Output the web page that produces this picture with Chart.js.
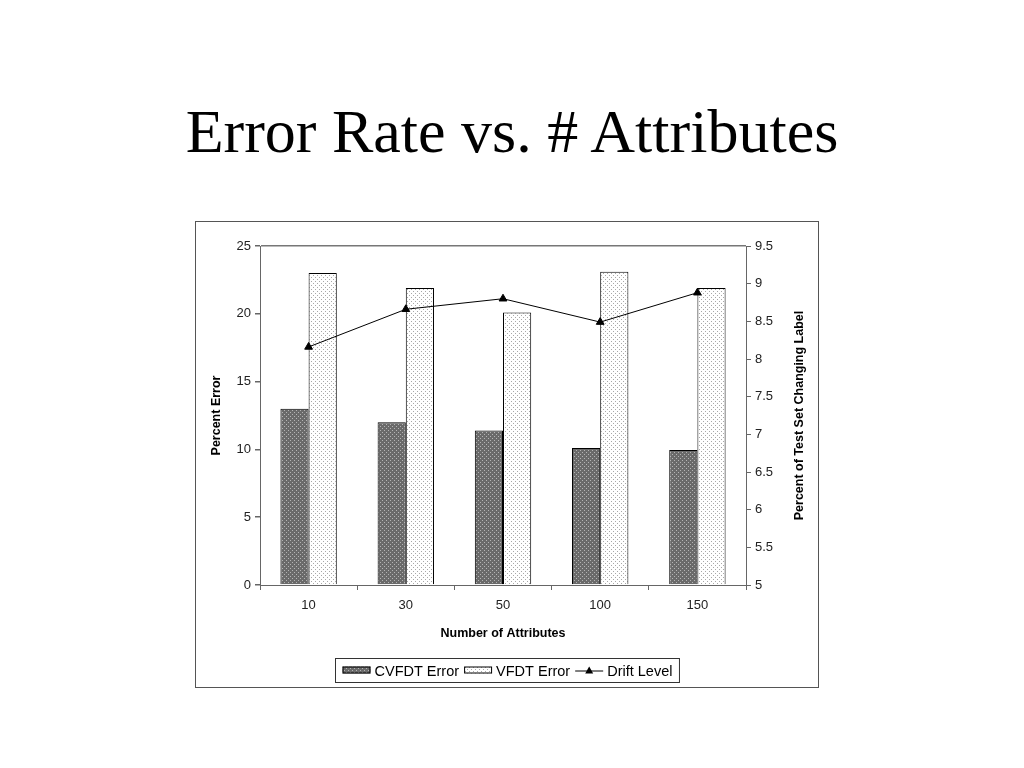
<!DOCTYPE html>
<html>
<head>
<meta charset="utf-8">
<script src="https://cdn.jsdelivr.net/npm/chart.js@4.4.0/dist/chart.umd.min.js"></script>
<style>
  body { margin: 0; background: #fff; width: 1024px; height: 768px; position: relative; overflow: hidden; }
  #title { position: absolute; left: 0; width: 1024px; top: 100px; text-align: center;
           font-family: "Liberation Serif", "Times New Roman", serif; font-size: 62px; color: #000; line-height: 1; }
  #box { position: absolute; left: 195px; top: 221px; width: 622px; height: 465px; border: 1px solid #555; }
  #box canvas { display: block; }
</style>
</head>
<body>
<div id="title">Error Rate vs. # Attributes</div>
<div id="box"><canvas id="chart" width="622" height="465"></canvas></div>
<script>
var categories = ['10', '30', '50', '100', '150'];
var cvfdtError = [13.0, 12.0, 11.4, 10.1, 9.95];
var vfdtError = [23.0, 21.9, 20.1, 23.1, 21.9];
var driftLevel = [8.16, 8.66, 8.80, 8.49, 8.88];
var seriesNames = ['CVFDT Error', 'VFDT Error', 'Drift Level'];

var tickFont = { family: 'Liberation Sans, Arial, sans-serif', size: 13 };
var titleFont = { family: 'Liberation Sans, Arial, sans-serif', size: 12.5, weight: 'bold' };
var axisColor = '#666';

function makePattern(bg, dot, cells) {
    var c = document.createElement('canvas');
    c.width = 4; c.height = 4;
    var g = c.getContext('2d');
    g.fillStyle = bg;
    g.fillRect(0, 0, 4, 4);
    g.fillStyle = dot;
    cells.forEach(function(p){ g.fillRect(p[0], p[1], 1, 1); });
    return g.createPattern(c, 'repeat');
}
var darkFill = makePattern('#6a6a6a', '#b4b4b4', [[0, 0], [2, 2]]);
var lightFill = makePattern('#ffffff', '#a8a8a8', [[1, 1], [3, 3]]);

// right axis title (reads bottom to top) and boxed legend
var extras = {
    id: 'extras',
    afterDraw: function(chart) {
        var ctx = chart.ctx;
        var area = chart.chartArea;
        ctx.save();
        ctx.fillStyle = '#000';
        ctx.font = 'bold 12.5px Liberation Sans, Arial, sans-serif';
        ctx.textAlign = 'center';
        ctx.textBaseline = 'middle';
        ctx.translate(area.right + 54, (area.top + area.bottom) / 2);
        ctx.rotate(-Math.PI / 2);
        ctx.fillText('Percent of Test Set Changing Label', 0, 0);
        ctx.restore();

        // legend
        ctx.save();
        ctx.font = '14.5px Liberation Sans, Arial, sans-serif';
        var swW = 28, gap = 4, itemGap = 5, pad = 7;
        var widths = seriesNames.map(function(n){ return swW + gap + ctx.measureText(n).width; });
        var total = widths.reduce(function(a, b){ return a + b; }, 0) + itemGap * 2 + pad * 2;
        var lx = Math.round(chart.width / 2 - total / 2) + 0.5;
        var ly = 436.5, lh = 24;
        ctx.strokeStyle = '#333';
        ctx.lineWidth = 1;
        ctx.strokeRect(lx, ly, total, lh);
        var cy = ly + lh / 2;
        var x = lx + pad;
        ctx.textBaseline = 'middle';
        ctx.textAlign = 'left';
        [darkFill, lightFill].forEach(function(f, i){
            ctx.fillStyle = f;
            ctx.fillRect(x, cy - 4, swW, 7);
            ctx.strokeStyle = '#000';
            ctx.strokeRect(x + 0.5, cy - 3.5, swW - 1, 6);
            ctx.fillStyle = '#000';
            ctx.fillText(seriesNames[i], x + swW + gap, cy + 1);
            x += widths[i] + itemGap;
        });
        ctx.strokeStyle = '#000';
        ctx.beginPath();
        ctx.moveTo(x, cy + 0.5);
        ctx.lineTo(x + swW, cy + 0.5);
        ctx.stroke();
        ctx.beginPath();
        ctx.moveTo(x + swW / 2, cy - 4);
        ctx.lineTo(x + swW / 2 + 4, cy + 3);
        ctx.lineTo(x + swW / 2 - 4, cy + 3);
        ctx.closePath();
        ctx.fillStyle = '#000';
        ctx.fill();
        ctx.fillText(seriesNames[2], x + swW + gap, cy + 1);
        ctx.restore();
    }
};

new Chart(document.getElementById('chart'), {
    data: {
        labels: categories,
        datasets: [{
            type: 'line',
            label: seriesNames[2],
            data: driftLevel,
            yAxisID: 'y2',
            borderColor: '#000',
            backgroundColor: '#000',
            borderWidth: 1,
            pointStyle: 'triangle',
            pointRadius: 4.5,
            pointBorderWidth: 1,
            tension: 0,
            order: 0
        }, {
            type: 'bar',
            label: seriesNames[0],
            data: cvfdtError,
            yAxisID: 'y',
            backgroundColor: darkFill,
            borderColor: '#000',
            borderWidth: 1,
            barPercentage: 1,
            categoryPercentage: 0.58,
            order: 1
        }, {
            type: 'bar',
            label: seriesNames[1],
            data: vfdtError,
            yAxisID: 'y',
            backgroundColor: lightFill,
            borderColor: '#000',
            borderWidth: 1,
            barPercentage: 1,
            categoryPercentage: 0.58,
            order: 1
        }]
    },
    options: {
        responsive: false,
        animation: false,
        layout: { padding: { left: 9, right: 0, top: 24, bottom: 42 } },
        plugins: { legend: { display: false }, tooltip: { enabled: false } },
        scales: {
            x: {
                offset: true,
                grid: { offset: true, drawOnChartArea: false, tickLength: 5, color: axisColor },
                border: { color: axisColor },
                ticks: { font: tickFont, color: '#222', padding: 8, maxRotation: 0 },
                title: { display: true, text: 'Number of Attributes', font: titleFont, color: '#000', padding: { top: 4, bottom: 4 } },
                afterFit: function(s){ s.height = 60; }
            },
            y: {
                position: 'left',
                min: 0, max: 25,
                ticks: { stepSize: 5, font: tickFont, color: '#222', padding: 4 },
                grid: {
                    drawOnChartArea: true, tickLength: 5, tickColor: axisColor,
                    color: function(c){ return c.tick && c.tick.value === 25 ? '#777' : 'rgba(0,0,0,0)'; },
                    lineWidth: 1.5
                },
                border: { color: axisColor },
                title: { display: true, text: 'Percent Error', font: titleFont, color: '#000', padding: { top: 4, bottom: 4 } },
                afterFit: function(s){ s.width = 55; }
            },
            y2: {
                position: 'right',
                min: 5, max: 9.5,
                ticks: {
                    stepSize: 0.5, font: tickFont, color: '#222', padding: 4,
                    callback: function(v){ return String(v); }
                },
                grid: { drawOnChartArea: false, tickLength: 5, color: axisColor },
                border: { color: axisColor },
                afterFit: function(s){ s.width = 72; }
            }
        }
    },
    plugins: [extras]
});
</script>
</body>
</html>
